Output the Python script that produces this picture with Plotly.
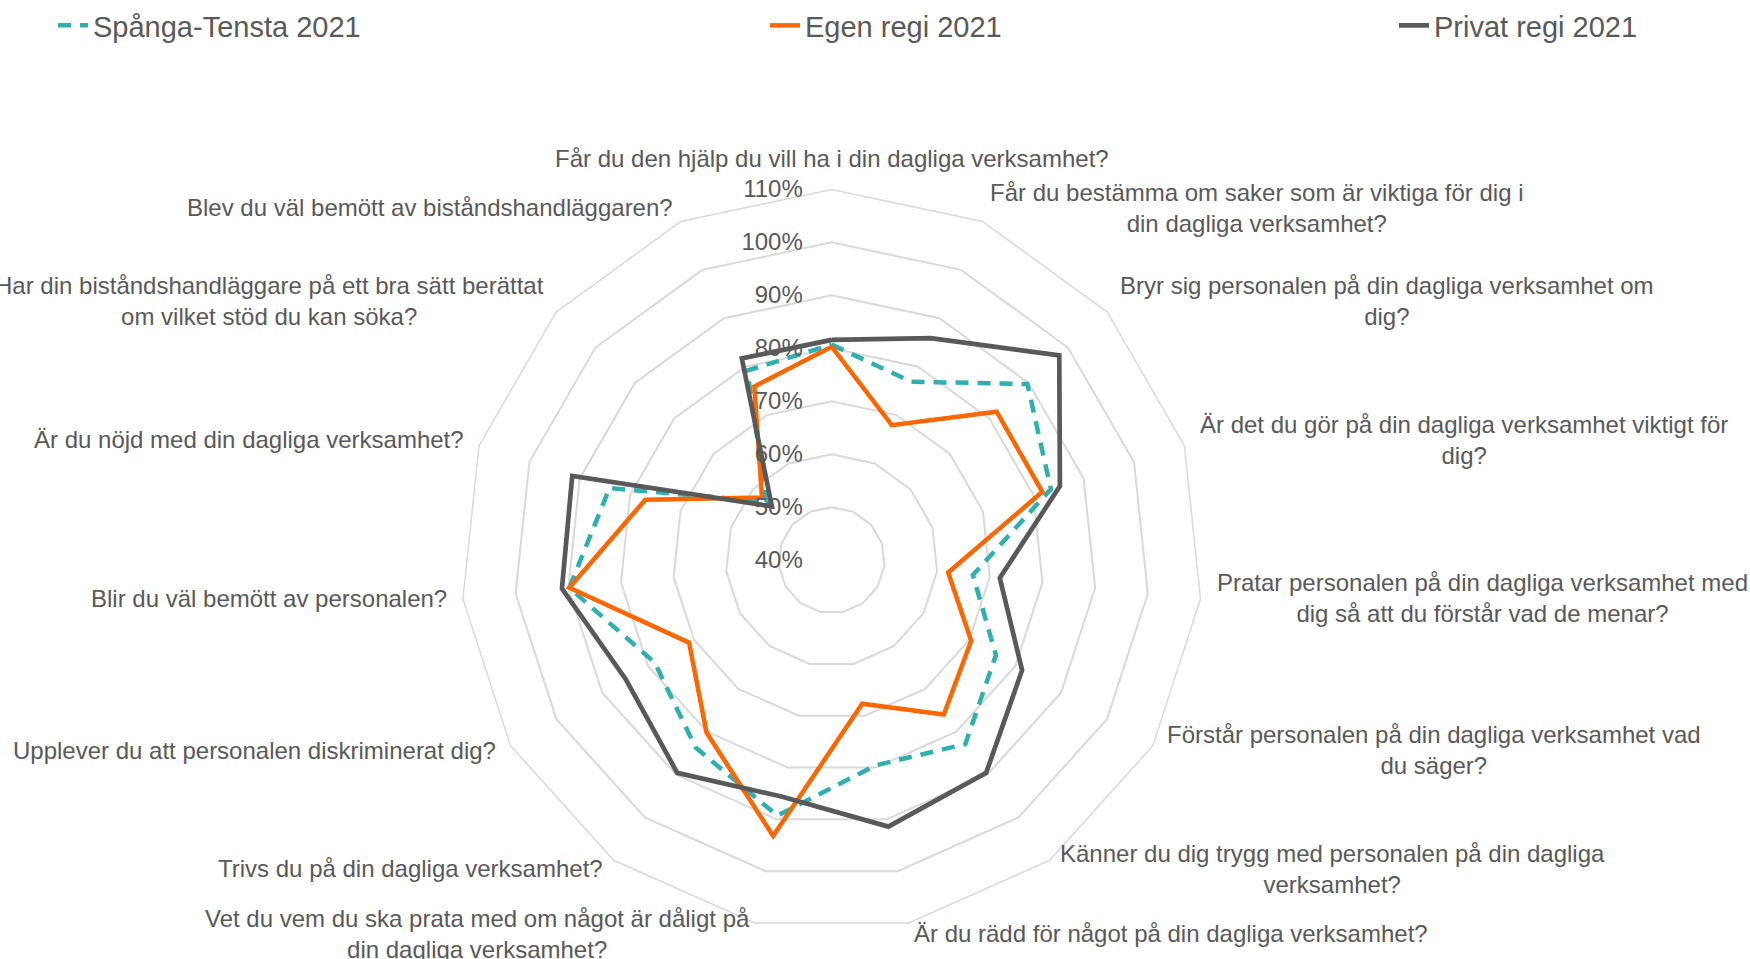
import math
import plotly.graph_objects as go

categories = [
    "Får du den hjälp du vill ha i din dagliga verksamhet?",
    "Får du bestämma om saker som är viktiga för dig i<br>din dagliga verksamhet?",
    "Bryr sig personalen på din dagliga verksamhet om<br>dig?",
    "Är det du gör på din dagliga verksamhet viktigt för<br>dig?",
    "Pratar personalen på din dagliga verksamhet med<br>dig så att du förstår vad de menar?",
    "Förstår personalen på din dagliga verksamhet vad<br>du säger?",
    "Känner du dig trygg med personalen på din dagliga<br>verksamhet?",
    "Är du rädd för något på din dagliga verksamhet?",
    "Vet du vem du ska prata med om något är dåligt på<br>din dagliga verksamhet?",
    "Trivs du på din dagliga verksamhet?",
    "Upplever du att personalen diskriminerat dig?",
    "Blir du väl bemött av personalen?",
    "Är du nöjd med din dagliga verksamhet?",
    "Har din biståndshandläggare på ett bra sätt berättat<br>om vilket stöd du kan söka?",
    "Blev du väl bemött av biståndshandläggaren?",
]

spanga_tensta_2021 = [80.7, 76.9, 89.7, 83.5, 66.8, 75.8, 82.9, 79.6, 89.3, 83.7, 78.6, 89.8, 84.1, 56.5, 79.2]
egen_regi_2021 = [80.3, 67.9, 81.9, 81.8, 62.1, 70.4, 76.0, 67.7, 93.2, 80.2, 71.1, 89.8, 77.0, 57.7, 75.9]
privat_regi_2021 = [81.6, 85.9, 97.8, 85.3, 71.9, 81.5, 89.6, 91.4, 85.6, 89.6, 84.9, 91.2, 91.5, 55.2, 81.7]

series_names = ["Spånga-Tensta 2021", "Egen regi 2021", "Privat regi 2021"]

# layout constants (pixels)
W, H = 1750, 959
CX, CY, R = 831.7, 559.0, 372.0
FONT = "Liberation Sans, Arial, sans-serif"
TXT = "#595959"
ids = list(range(len(categories)))


def closed(v):
    return list(v) + [v[0]]


fig = go.Figure()
styles = [
    dict(color="#2EAFB0", width=4.5, dash="13px,9px"),
    dict(color="#FF6600", width=4.5),
    dict(color="#595959", width=4.7),
]
legends = ["legend", "legend2", "legend3"]
for vals, name, st, lg in zip([spanga_tensta_2021, egen_regi_2021, privat_regi_2021], series_names, styles, legends):
    fig.add_trace(go.Scatterpolar(
        r=closed(vals), theta=closed(ids), mode="lines", name=name,
        line=st, legend=lg, hoverinfo="skip", showlegend=True,
    ))

annotations = []
n = len(categories)
for i, lab in enumerate(categories):
    a = math.radians(360.0 * i / n)
    s, c = math.sin(a), math.cos(a)
    rr = R + 13
    px = CX + rr * s
    py = CY - rr * c - 2
    if s > 0.1:
        xa = "left"
    elif s < -0.1:
        xa = "right"
    else:
        xa = "center"
    ya = "bottom" if c > 0.95 else "middle"
    annotations.append(dict(
        x=px / W, y=1 - py / H, xref="paper", yref="paper", text=lab,
        showarrow=False, xanchor=xa, yanchor=ya, align="center",
        font=dict(family=FONT, size=24, color=TXT),
    ))

leg_common = dict(orientation="h", yanchor="middle", y=1 - 22.5 / H, xanchor="left",
                  font=dict(family=FONT, size=29, color=TXT), bgcolor="rgba(0,0,0,0)")

fig.update_layout(
    width=W, height=H,
    margin=dict(l=0, r=0, t=0, b=0),
    paper_bgcolor="white",
    showlegend=True,
    polar=dict(
        domain=dict(x=[(CX - R) / W, (CX + R) / W], y=[(H - CY - R) / H, (H - CY + R) / H]),
        bgcolor="white",
        gridshape="linear",
        angularaxis=dict(
            type="category", categoryorder="array", categoryarray=ids,
            direction="clockwise", rotation=90,
            showgrid=False, showline=True, linecolor="#d9d9d9", linewidth=1.5,
            showticklabels=False, ticks="",
        ),
        radialaxis=dict(
            range=[40, 110], tick0=40, dtick=10, ticksuffix="%",
            angle=90, side="counterclockwise", tickangle=90,
            showline=False, gridcolor="#d9d9d9", gridwidth=1.5,
            ticks="outside", ticklen=20, tickcolor="rgba(0,0,0,0)",
            tickfont=dict(family=FONT, size=24, color=TXT),
            layer="above traces",
        ),
    ),
    legend=dict(x=53 / W, **leg_common),
    legend2=dict(x=765 / W, **leg_common),
    legend3=dict(x=1394 / W, **leg_common),
    annotations=annotations,
    font=dict(family=FONT, color=TXT),
)

fig.write_html("out.html")
